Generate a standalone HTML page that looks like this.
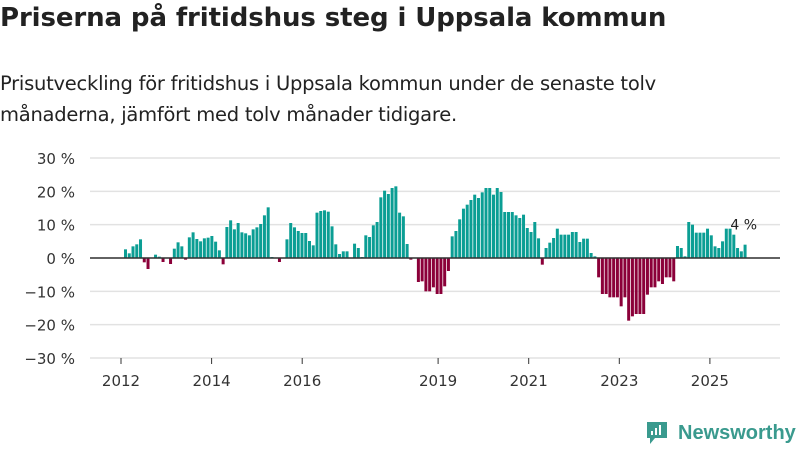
<!DOCTYPE html>
<html><head><meta charset="utf-8"><style>
body{margin:0;width:800px;height:450px;background:#fff;font-family:"DejaVu Sans","Liberation Sans",sans-serif;overflow:hidden;position:relative}
.t{position:absolute;left:0;top:3px;font-size:26px;font-weight:bold;color:#222;letter-spacing:-0.1px}
.s{position:absolute;left:0;top:68px;font-size:19.5px;line-height:31px;color:#222;letter-spacing:-0.25px}
svg{position:absolute;left:0;top:0}
</style></head><body>
<div class="t">Priserna på fritidshus steg i Uppsala kommun</div>
<div class="s">Prisutveckling för fritidshus i Uppsala kommun under de senaste tolv<br>månaderna, jämfört med tolv månader tidigare.</div>
<svg width="800" height="450" id="c"></svg>
<div style="position:absolute;left:645px;top:420px;display:flex;align-items:center;color:#3a9a8e;font-family:'Liberation Sans',sans-serif;font-size:20px;font-weight:bold">
<svg width="24" height="26" style="position:static;margin-right:9px"><path d="M2 2h20v16H10l-5 6v-6H2z" fill="#3a9a8e"/><rect x="6" y="11" width="2" height="4" fill="#fff"/><rect x="10" y="8" width="2" height="7" fill="#fff"/><rect x="14" y="5" width="2" height="10" fill="#fff"/></svg>Newsworthy</div>
<script>
const startYear=2012;
const yTicks=[30,20,10,0,-10,-20,-30];
const xYears=[2012,2014,2016,2019,2021,2023,2025];
const values=[2.6,1.4,3.5,4.1,5.6,-1.3,-3.3,0,1.0,0.4,-1.2,0,-1.8,2.8,4.7,3.5,-0.5,6.2,7.7,5.7,5.0,5.9,6.1,6.6,4.9,2.3,-1.9,9.3,11.3,8.6,10.5,7.7,7.4,6.8,8.6,9.2,10.2,12.8,15.2,0.3,0,-1.2,0,5.6,10.5,9.2,8.1,7.5,7.5,5.1,3.8,13.6,14.1,14.3,13.9,9.5,4.1,1.2,2.0,2.0,0,4.3,3.0,0.3,6.8,6.3,9.8,10.8,18.2,20.2,19.2,21.0,21.5,13.6,12.5,4.2,-0.5,0,-7.2,-7.0,-10.0,-10.0,-8.8,-10.8,-10.8,-8.5,-3.9,6.5,8.1,11.6,14.8,16.0,17.4,19.0,18.0,19.7,21.0,21.0,19.0,21.0,19.8,13.8,13.8,13.8,12.8,12.0,13.0,9.0,7.8,10.8,5.9,-2.0,3.0,4.6,6.0,8.8,7.0,7.0,7.0,7.8,7.8,4.8,5.8,5.8,1.5,0.5,-5.8,-10.8,-10.8,-11.8,-11.8,-11.8,-14.5,-11.8,-18.8,-17.5,-16.8,-16.8,-16.8,-11.0,-8.8,-8.8,-7.0,-7.8,-5.8,-5.8,-7.0,3.6,3.0,0.5,10.8,10.0,7.6,7.6,7.6,8.8,6.8,3.5,3.0,5.0,8.8,8.8,7.0,3.0,2.0,4.0];
const lastLabel="4 %";
const svg=document.getElementById('c'),NS='http://www.w3.org/2000/svg';
const y=v=>258-v*10/3;
const xi=i=>125.5+i*3.755;
const xy=yr=>121+(yr-startYear)*45.3;
function mk(t,a){const e=document.createElementNS(NS,t);for(const k in a)e.setAttribute(k,a[k]);svg.appendChild(e);return e;}
yTicks.forEach(v=>{
 const g=mk('line',{x1:90,x2:780,y1:y(v),y2:y(v),stroke:'#e2e2e2','stroke-width':1.5});
 
 
 const t=mk('text',{x:75,y:y(v)+6,'text-anchor':'end','font-size':15,fill:'#333'});
 t.textContent=(v<0?'−'+(-v):v)+' %';
 
 
});
values.forEach((v,i)=>{
 if(!v)return;
 const r=mk('rect',{x:xi(i)-1.5,width:3,y:Math.min(y(v),258),height:Math.abs(y(v)-258),fill:v>0?'#0b9e94':'#8b0039'});
 
 
});
const z=mk('line',{x1:90,x2:780,y1:258,y2:258,stroke:'#333','stroke-width':1.5});


xYears.forEach(yr=>{
 const l=mk('line',{x1:xy(yr),x2:xy(yr),y1:358,y2:364,stroke:'#333','stroke-width':1});
 
 
 const t=mk('text',{x:xy(yr),y:386,'text-anchor':'middle','font-size':15,fill:'#333'});
 t.textContent=yr;
 
 
});
const n=values.length-1;
const lb=mk('text',{x:xi(n)+12,y:y(values[n])-15,'text-anchor':'end','font-size':14,fill:'#222'});
lb.textContent=lastLabel;


</script>
</body></html>
